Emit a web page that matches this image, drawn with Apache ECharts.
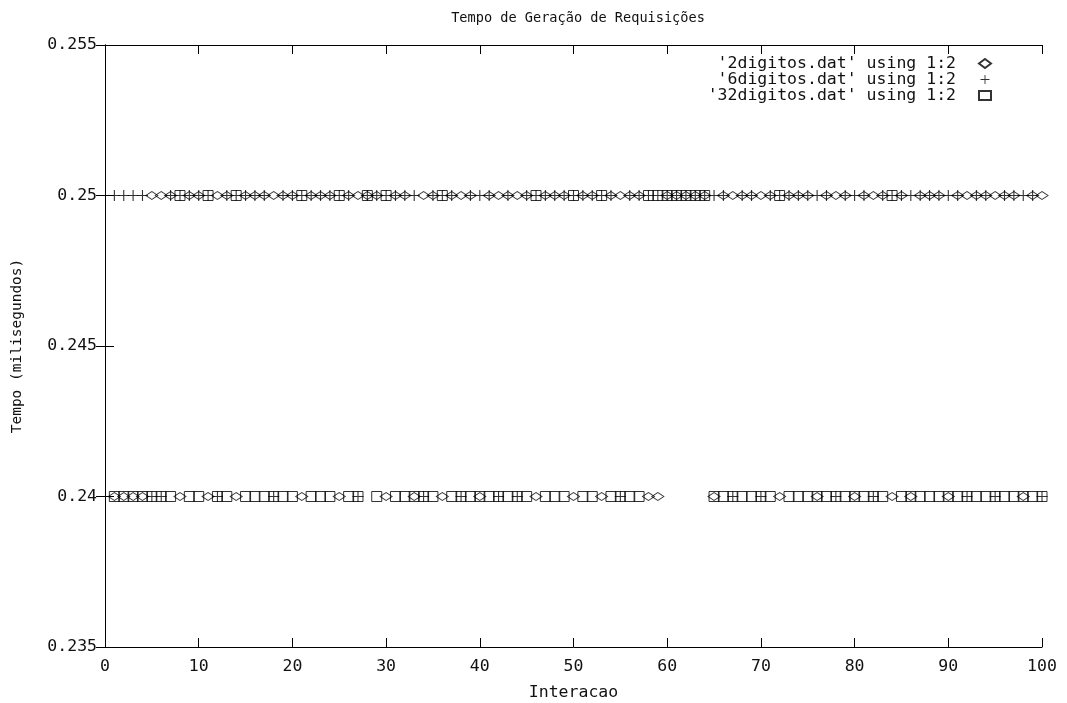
<!DOCTYPE html>
<html>
<head>
<meta charset="utf-8">
<script src="https://cdn.jsdelivr.net/npm/echarts@6/dist/echarts.min.js"></script>
<style>
  html, body { margin: 0; padding: 0; background: #fff; }
  #chart { width: 1067px; height: 703px; }
</style>
</head>
<body>
<div id="chart"></div>
<script>
// Request generation time per iteration, one series per key size (ms)
const iterations = Array.from({ length: 100 }, (_, i) => i + 1);

const H = 0.25, L = 0.24;
const digitos2 = [
  L, L, L, L, H, H, H, L, H, H,
  L, H, H, L, H, H, H, H, H, H,
  L, H, H, H, L, H, H, H, H, L,
  H, H, L, H, H, L, H, H, H, L,
  H, H, H, H, H, L, H, H, H, L,
  H, H, L, H, H, H, H, L, L, H,
  H, H, H, H, L, H, H, H, H, H,
  H, L, H, H, H, L, H, H, H, L,
  H, H, H, L, H, L, H, H, H, L,
  H, H, H, H, H, H, H, L, H, H
];
const digitos6 = [
  H, H, H, H, L, L, H, H, H, H,
  H, L, H, H, H, H, H, L, H, H,
  H, H, H, H, H, H, L, H, H, H,
  H, H, H, L, H, H, H, L, H, H,
  H, L, H, L, H, H, H, H, H, H,
  H, H, H, H, L, H, H, H, H, H,
  H, H, H, H, H, H, L, H, H, L,
  H, H, H, H, H, H, H, L, H, H,
  H, L, H, H, H, H, H, H, H, H,
  H, L, H, H, L, H, H, H, H, L
];
const digitos32 = [
  L, L, L, L, L, L, L, H, L, L,
  H, L, L, H, L, L, L, L, L, L,
  H, L, L, L, H, L, L, H, L, H,
  L, L, L, L, L, H, L, L, L, L,
  L, L, L, L, L, H, L, L, L, H,
  L, L, H, L, L, L, L, H, H, H,
  H, H, H, H, L, L, L, L, L, L,
  L, H, L, L, L, L, L, L, L, L,
  L, L, L, H, L, L, L, L, L, L,
  L, L, L, L, L, L, L, L, L, L
];

const seriesNames = [
  "'2digitos.dat' using 1:2",
  "'6digitos.dat' using 1:2",
  "'32digitos.dat' using 1:2"
];

const FONT = 'DejaVu Sans Mono';
const INK = '#111';
const plusPath = 'path://M4.5,0h1v10h-1zM0,4.5h10v1h-10z';

function pairs(vals) {
  return iterations.map((x, i) => [x, vals[i]]);
}

const chart = echarts.init(document.getElementById('chart'), null, { renderer: 'canvas' });

const tick = { show: true, inside: true, length: 9, lineStyle: { color: '#000', width: 1 } };
const line = { show: true, lineStyle: { color: '#000', width: 1 } };

chart.setOption({
  animation: false,
  backgroundColor: '#fff',
  title: {
    text: 'Tempo de Geração de Requisições',
    left: 573, textAlign: 'center',
    top: 6,
    textStyle: { fontFamily: FONT, fontSize: 13.6, fontWeight: 'normal', color: INK }
  },
  legend: {
    orient: 'vertical',
    right: 70,
    top: 50,
    itemGap: -1,
    itemWidth: 12,
    itemHeight: 9,
    align: 'right',
    textStyle: {
      fontFamily: FONT, fontSize: 16.5, color: INK, lineHeight: 15,
      width: 250, align: 'right', padding: [0, 18, 0, 0]
    },
    data: seriesNames
  },
  grid: { left: 105, right: 25, top: 45, bottom: 56, containLabel: false, outerBoundsMode: 'none' },
  xAxis: [
    {
      type: 'value', min: 0, max: 100, interval: 10,
      name: 'Interacao', nameLocation: 'middle', nameGap: 37,
      nameTextStyle: { fontFamily: FONT, fontSize: 16.5, color: INK },
      axisLine: line, axisTick: tick, splitLine: { show: false },
      axisLabel: { fontFamily: FONT, fontSize: 16.5, color: INK, margin: 11 }
    },
    {
      type: 'value', min: 0, max: 100, interval: 10, position: 'top',
      axisLine: line, axisTick: tick, splitLine: { show: false },
      axisLabel: { show: false }
    }
  ],
  yAxis: [
    {
      type: 'value', min: 0.235, max: 0.255, interval: 0.005,
      name: 'Tempo (milisegundos)', nameLocation: 'middle', nameGap: 80, nameRotate: 90,
      nameTextStyle: { fontFamily: FONT, fontSize: 14.5, color: INK },
      axisLine: line, axisTick: tick, splitLine: { show: false },
      axisLabel: {
        fontFamily: FONT, fontSize: 16.5, color: INK, margin: 8,
        formatter: v => String(+v.toFixed(3))
      }
    },
    {
      type: 'value', min: 0.235, max: 0.255, interval: 0.005, position: 'right',
      axisLine: line, axisTick: tick, splitLine: { show: false },
      axisLabel: { show: false }
    }
  ],
  series: [
    {
      name: seriesNames[0], type: 'scatter', data: pairs(digitos2),
      symbol: 'diamond', symbolSize: [12, 8],
      itemStyle: { color: 'rgba(0,0,0,0)', borderColor: '#000', borderWidth: 1 }
    },
    {
      name: seriesNames[1], type: 'scatter', data: pairs(digitos6),
      symbol: plusPath, symbolSize: 11,
      itemStyle: { color: '#000' }
    },
    {
      name: seriesNames[2], type: 'scatter', data: pairs(digitos32),
      symbol: 'rect', symbolSize: 10,
      itemStyle: { color: 'rgba(0,0,0,0)', borderColor: '#000', borderWidth: 1 }
    }
  ]
});
</script>
</body>
</html>
